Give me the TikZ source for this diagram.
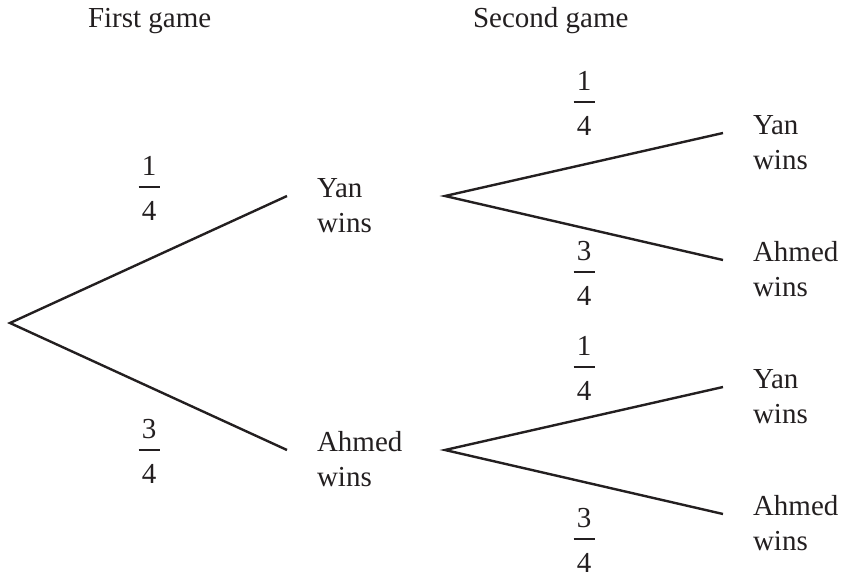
\documentclass[tikz,border=0pt]{standalone}
\usepackage{fontspec}
\setmainfont{Liberation Serif}
\definecolor{ink}{HTML}{231F20}
\newcommand\fracat[5]{%
  \node[lbl,anchor=base] (#1n) at (#2,#3-12) {#4};
  \node[lbl,anchor=base] (#1d) at (#2,#3+33) {#5};
  \draw[fracbar] (#2-10.5,#3) -- (#2+10.5,#3);}
\tikzset{
  lbl/.style={inner sep=0pt,outer sep=0pt,text=ink,font=\fontsize{29}{35}\selectfont},
  branch/.style={draw=ink,line width=2.4pt},
  fracbar/.style={draw=ink,line width=1.3pt}
}
\begin{document}
\begin{tikzpicture}[x=1pt,y=-1pt]
\useasboundingbox (0,0) rectangle (845,578);
% headings
\node[lbl,anchor=base west] (h1) at (88,28) {First game};
\node[lbl,anchor=base west] (h2) at (473,28) {Second game};
% branch points
\coordinate (r) at (10,323);
\coordinate (a1) at (287,196);
\coordinate (a2) at (287,450);
\coordinate (b1) at (445,196);
\coordinate (b2) at (445,450);
\coordinate (c1) at (723,133);
\coordinate (c2) at (723,260);
\coordinate (c3) at (723,387);
\coordinate (c4) at (723,514);
% labels
\node[lbl,anchor=base west] (l1) at (317,197) {\begin{tabular}[t]{@{}l@{}}Yan\\wins\end{tabular}};
\node[lbl,anchor=base west] (l2) at (317,451) {\begin{tabular}[t]{@{}l@{}}Ahmed\\wins\end{tabular}};
\node[lbl,anchor=base west] (m1) at (753,134) {\begin{tabular}[t]{@{}l@{}}Yan\\wins\end{tabular}};
\node[lbl,anchor=base west] (m2) at (753,261) {\begin{tabular}[t]{@{}l@{}}Ahmed\\wins\end{tabular}};
\node[lbl,anchor=base west] (m3) at (753,388) {\begin{tabular}[t]{@{}l@{}}Yan\\wins\end{tabular}};
\node[lbl,anchor=base west] (m4) at (753,515) {\begin{tabular}[t]{@{}l@{}}Ahmed\\wins\end{tabular}};
% branches
\draw[branch] (a1) -- (r) -- (a2);
\draw[branch] (c1) -- (b1) -- (c2);
\draw[branch] (c3) -- (b2) -- (c4);
% probabilities
\fracat{p1}{149}{187}{1}{4}
\fracat{p2}{149}{450}{3}{4}
\fracat{p3}{584}{102}{1}{4}
\fracat{p4}{584}{272}{3}{4}
\fracat{p5}{584}{367}{1}{4}
\fracat{p6}{584}{539}{3}{4}
\end{tikzpicture}
\end{document}
